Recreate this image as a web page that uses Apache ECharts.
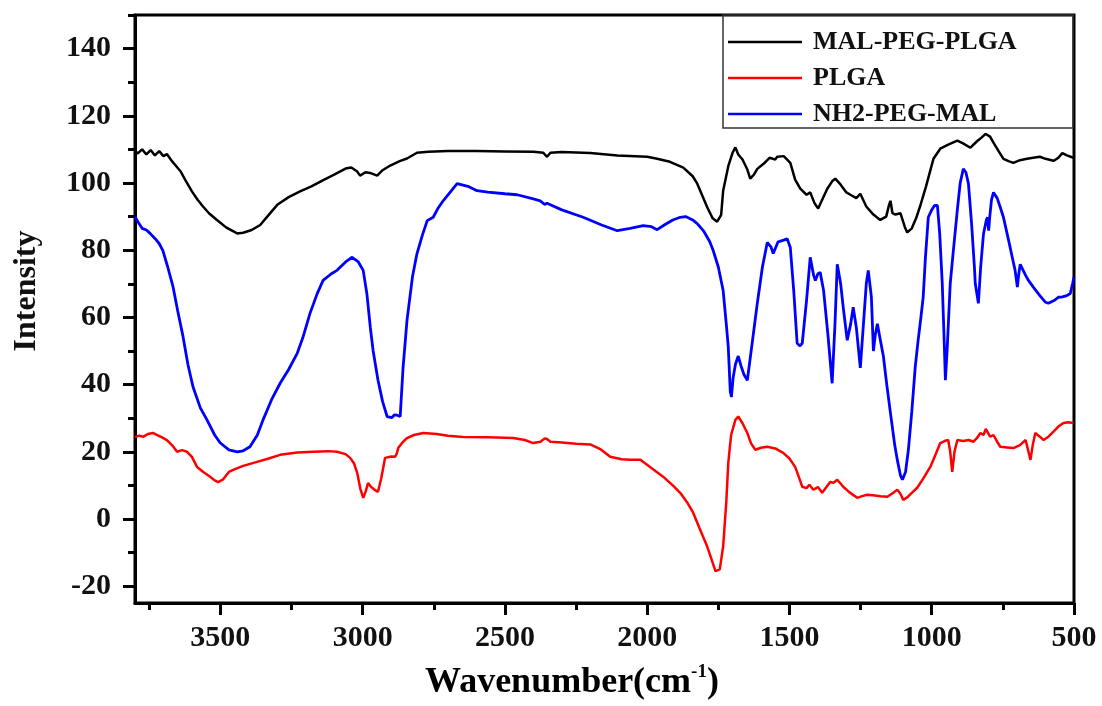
<!DOCTYPE html>
<html>
<head>
<meta charset="utf-8">
<script src="https://cdn.jsdelivr.net/npm/echarts@6/dist/echarts.min.js"></script>
<style>html,body{margin:0;padding:0;background:#fff}#c{width:1102px;height:706px}</style>
</head>
<body>
<div id="c"></div>
<script>
const seriesNames = ['MAL-PEG-PLGA', 'PLGA', 'NH2-PEG-MAL'];
const xTicks = [500, 1000, 1500, 2000, 2500, 3000, 3500];
const xMinorTicks = [750, 1250, 1750, 2250, 2750, 3250, 3750];
const yTicks = [-20, 0, 20, 40, 60, 80, 100, 120, 140];
const yMinorTicks = [-10, 10, 30, 50, 70, 90, 110, 130, 150];

const malPegPlga = [[3800,109.5],[3790,108.8],[3775,110],[3760,108.5],[3745,109.8],[3730,108.2],[3715,109.5],[3700,108],[3688,108.6],[3670,106.5],[3655,105],[3640,103.5],[3624,101],[3600,97.5],[3580,95],[3561,93],[3540,91],[3512,89],[3480,86.8],[3441,85],[3420,85.2],[3390,86],[3360,87.5],[3330,90.5],[3300,93.5],[3260,95.8],[3220,97.5],[3180,99],[3140,100.8],[3100,102.5],[3060,104.3],[3040,104.6],[3020,103.5],[3009,102.2],[2990,103.2],[2974,103],[2949,102.2],[2930,103.8],[2903,105.2],[2870,106.5],[2844,107.3],[2809,109],[2770,109.3],[2700,109.5],[2600,109.5],[2500,109.4],[2400,109.3],[2365,109],[2352,107.8],[2340,109],[2300,109.2],[2200,108.9],[2105,108.2],[2000,107.8],[1965,107.2],[1920,106.3],[1873,104.6],[1840,102],[1824,99.8],[1805,96],[1789,92.8],[1770,89.5],[1754,88.5],[1740,90.5],[1733,97.7],[1715,105],[1700,109],[1690,110.6],[1680,108.5],[1665,107],[1648,104],[1638,101.3],[1625,102.5],[1613,104.2],[1590,105.8],[1570,107.5],[1550,107],[1543,107.8],[1520,108],[1497,106],[1480,101],[1462,98.3],[1440,96.5],[1427,97.2],[1412,94],[1399,92.4],[1385,95],[1367,98.3],[1350,100.5],[1339,101.3],[1320,99.5],[1300,97.2],[1286,96.5],[1265,95.5],[1251,96.8],[1230,93],[1205,90.6],[1181,89],[1160,90],[1150,93.5],[1145,94.7],[1138,91],[1128,90.6],[1110,91],[1095,87],[1086,85.3],[1070,86.5],[1055,89.5],[1040,93.3],[1020,99],[994,107.2],[970,110.2],[940,111.5],[910,112.6],[890,111.8],[864,110.5],[840,112.5],[825,113.5],[811,114.6],[795,113.8],[783,112],[765,109.5],[748,107.2],[730,106.5],[713,106],[690,106.8],[665,107.2],[643,107.5],[620,107.8],[600,107.2],[572,106.6],[555,107.5],[541,108.9],[525,108.2],[502,107.5]];

const plga = [[3800,24.4],[3785,24.8],[3770,24.5],[3755,25.3],[3737,25.6],[3720,24.9],[3705,24.3],[3688,23.5],[3670,22],[3652,20],[3635,20.5],[3617,20],[3600,18.5],[3582,15.5],[3560,14],[3536,12.6],[3520,11.5],[3508,11],[3490,11.8],[3470,14],[3455,14.6],[3420,15.8],[3371,17],[3330,18],[3290,19.1],[3230,19.8],[3174,20],[3120,20.2],[3090,20],[3060,19.3],[3044,18.2],[3030,16.5],[3019,13.7],[3008,9],[2998,6.3],[2990,8],[2981,10.7],[2970,9.5],[2955,8.5],[2946,8.1],[2935,12],[2921,18.2],[2900,18.6],[2886,18.5],[2880,19.5],[2875,21.1],[2860,22.8],[2844,24.1],[2820,25],[2787,25.6],[2740,25.3],[2700,24.8],[2647,24.4],[2560,24.3],[2471,24.1],[2430,23.5],[2401,22.6],[2375,23],[2360,24],[2352,23.8],[2340,23],[2300,22.8],[2250,22.4],[2200,22.2],[2165,20.8],[2130,18.5],[2090,17.8],[2060,17.6],[2024,17.6],[1990,15.5],[1944,12.6],[1910,10],[1884,7.8],[1860,5],[1838,1.8],[1815,-3],[1789,-8.2],[1770,-13],[1760,-15.5],[1754,-16],[1745,-15],[1733,-8.2],[1722,5],[1715,16.7],[1705,25],[1690,29.5],[1680,30.5],[1665,28.5],[1648,25.6],[1635,22.5],[1620,20.6],[1600,21.2],[1578,21.5],[1550,21],[1522,19.7],[1500,18],[1480,15.5],[1465,12],[1455,9.6],[1440,9.2],[1430,10.2],[1416,8.7],[1400,9.5],[1385,7.8],[1370,9.5],[1357,11],[1345,10.8],[1332,11.7],[1311,9.6],[1290,8],[1262,6.3],[1245,6.8],[1226,7.2],[1200,7],[1180,6.8],[1156,6.6],[1135,7.8],[1121,8.7],[1110,7.5],[1100,5.7],[1085,6.5],[1070,7.8],[1051,9.3],[1030,12],[1005,15.5],[985,19.5],[970,22.6],[955,23.2],[942,23.5],[935,20],[928,14],[920,20],[910,23.5],[890,23.2],[870,23.5],[853,23],[840,24.2],[829,25.6],[818,25],[810,26.8],[804,27],[795,24.5],[783,25],[770,23],[759,21.5],[735,21.3],[713,21.1],[690,22],[670,23.5],[664,23.5],[653,17.6],[645,22],[636,25.6],[620,24.5],[607,23.5],[590,24.5],[572,26],[555,27.5],[537,28.6],[520,28.8],[502,28.6]];

const nh2PegMal = [[3800,90],[3790,88.5],[3775,86.5],[3760,86],[3747,85],[3730,83.5],[3715,82],[3702,79.9],[3685,75],[3666,69],[3650,62],[3631,54.2],[3614,46],[3596,39.3],[3570,33],[3547,29.5],[3520,25],[3501,22.7],[3470,20.6],[3441,20],[3420,20.3],[3396,21.5],[3370,25],[3350,29.5],[3320,35.5],[3290,40.4],[3260,44.5],[3230,49.3],[3210,54],[3185,61.2],[3160,67],[3139,71],[3110,73],[3090,74],[3060,76.5],[3037,77.9],[3015,76.5],[2998,74],[2985,67],[2973,57],[2963,50],[2946,41.3],[2930,35],[2914,30.5],[2897,30.2],[2888,31],[2879,30.9],[2868,30.5],[2858,45],[2844,59.2],[2825,72],[2809,79],[2790,84.5],[2773,88.8],[2752,89.8],[2735,92.5],[2717,94.7],[2690,97.5],[2668,99.8],[2630,99],[2598,97.7],[2560,97.3],[2500,96.8],[2457,96.5],[2400,95.3],[2376,94.7],[2360,93.6],[2352,94],[2300,92],[2225,89.8],[2160,87.5],[2105,85.8],[2060,86.5],[2014,87.3],[1985,87],[1965,86.1],[1940,87.5],[1910,89],[1884,89.8],[1865,90],[1859,89.5],[1840,89],[1824,87.9],[1800,85.5],[1780,82.5],[1768,79.9],[1750,75],[1733,68],[1722,58],[1715,51.2],[1708,38],[1704,36.3],[1698,42],[1690,46],[1680,48.5],[1670,45.5],[1660,43],[1648,41.3],[1630,53],[1613,64.2],[1595,75],[1578,82.3],[1565,81],[1557,79],[1540,82.5],[1520,83],[1508,83.4],[1497,80.8],[1485,68],[1473,52.3],[1463,51.5],[1455,52.3],[1440,65],[1427,77.9],[1415,72.5],[1409,71],[1400,73],[1392,73.4],[1380,68],[1365,55],[1350,40.4],[1340,58],[1332,75.8],[1320,70],[1311,63],[1297,53.2],[1285,58],[1276,63],[1265,57],[1251,45],[1240,58],[1230,70],[1223,74],[1212,66],[1205,50],[1198,55],[1191,58.1],[1180,53],[1170,48.5],[1158,40],[1145,31.5],[1130,22],[1121,17.6],[1110,13],[1103,11.7],[1092,14],[1082,20.6],[1070,32],[1058,45.2],[1048,53],[1040,58.6],[1030,66],[1022,78],[1012,89.8],[1000,92],[990,93.3],[980,93.3],[972,85],[963,70.1],[957,55],[952,41.3],[946,50],[935,70],[924,79.9],[910,92],[900,100],[889,104.2],[880,103.2],[871,99.8],[860,88],[850,75],[847,70.1],[836,64.2],[828,75],[818,84.9],[808,89],[804,89.8],[800,85.8],[796,90],[790,95],[783,97.2],[770,95.5],[760,93],[748,89.8],[730,83],[717,77.9],[707,74],[699,69],[694,73],[689,75.8],[670,72.5],[660,71],[643,69],[620,66.5],[600,64.5],[590,64.2],[570,65],[555,66],[541,66.1],[525,66.5],[513,67.1],[505,70],[500,72]];

const SERIF = "'Liberation Serif', 'Times New Roman', serif";
const chart = echarts.init(document.getElementById('c'), null, {renderer: 'canvas'});

const baseX = {
  type: 'value', min: 500, max: 3800, inverse: true, position: 'bottom',
  splitLine: {show: false}
};
const baseY = {
  type: 'value', min: -25, max: 150, position: 'left',
  splitLine: {show: false}
};
const plain = v => String(v);

chart.setOption({
  animation: false,
  backgroundColor: '#fff',
  grid: {left: 135, right: 28, top: 15, bottom: 103, show: true, borderColor: '#000', borderWidth: 3, backgroundColor: 'transparent'},
  xAxis: [
    Object.assign({}, baseX, {
      axisLine: {show: true, onZero: false, lineStyle: {color: '#000', width: 3}},
      axisTick: {show: true, inside: false, length: 12, lineStyle: {color: '#000', width: 3}, customValues: xTicks},
      axisLabel: {show: true, margin: 20, color: '#111', fontFamily: SERIF, fontWeight: 'bold', fontSize: 30, customValues: xTicks, formatter: plain}
    }),
    Object.assign({}, baseX, {
      axisLine: {show: false, onZero: false},
      axisTick: {show: true, inside: false, length: 7, lineStyle: {color: '#000', width: 3}, customValues: xMinorTicks},
      axisLabel: {show: false}
    })
  ],
  yAxis: [
    Object.assign({}, baseY, {
      axisLine: {show: true, onZero: false, lineStyle: {color: '#000', width: 3}},
      axisTick: {show: true, inside: false, length: 12, lineStyle: {color: '#000', width: 3}, customValues: yTicks},
      axisLabel: {show: true, margin: 24, color: '#111', fontFamily: SERIF, fontWeight: 'bold', fontSize: 30, customValues: yTicks, formatter: plain}
    }),
    Object.assign({}, baseY, {
      axisLine: {show: false, onZero: false},
      axisTick: {show: true, inside: false, length: 7, lineStyle: {color: '#000', width: 3}, customValues: yMinorTicks},
      axisLabel: {show: false}
    })
  ],
  legend: {
    show: true, orient: 'vertical', left: 728, top: 29, padding: 0, itemGap: 10,
    icon: 'rect', itemWidth: 74, itemHeight: 2.5, selectedMode: false,
    data: seriesNames,
    textStyle: {fontFamily: SERIF, fontWeight: 'bold', fontSize: 26, color: '#111', padding: [0, 0, 0, 6]}
  },
  graphic: [
    {type: 'rect', z: 1, shape: {x: 723, y: 15, width: 350, height: 113}, style: {fill: null, stroke: '#333', lineWidth: 1.5}},
    {type: 'text', x: 572, y: 683, style: {
      text: '{a|Wavenumber(cm}{s|-1}{a|)}', align: 'center', verticalAlign: 'middle',
      rich: {
        a: {fontFamily: SERIF, fontWeight: 'bold', fontSize: 36, color: '#111', lineHeight: 40},
        s: {fontFamily: SERIF, fontWeight: 'bold', fontSize: 19, color: '#111', verticalAlign: 'top', lineHeight: 40}
      }
    }},
    {type: 'text', x: 27, y: 291, rotation: Math.PI / 2, style: {
      text: 'Intensity', align: 'center', verticalAlign: 'middle',
      fontFamily: SERIF, fontWeight: 'bold', fontSize: 32, fill: '#111'
    }}
  ],
  series: [
    {name: seriesNames[0], type: 'line', data: malPegPlga, showSymbol: false, symbol: 'none', xAxisIndex: 0, yAxisIndex: 0, lineStyle: {color: '#000', width: 2.5}, itemStyle: {color: '#000'}},
    {name: seriesNames[1], type: 'line', data: plga, showSymbol: false, symbol: 'none', xAxisIndex: 0, yAxisIndex: 0, lineStyle: {color: '#ff0000', width: 2.5}, itemStyle: {color: '#ff0000'}},
    {name: seriesNames[2], type: 'line', data: nh2PegMal, showSymbol: false, symbol: 'none', xAxisIndex: 0, yAxisIndex: 0, lineStyle: {color: '#0000ff', width: 2.8}, itemStyle: {color: '#0000ff'}}
  ]
});
</script>
</body>
</html>
